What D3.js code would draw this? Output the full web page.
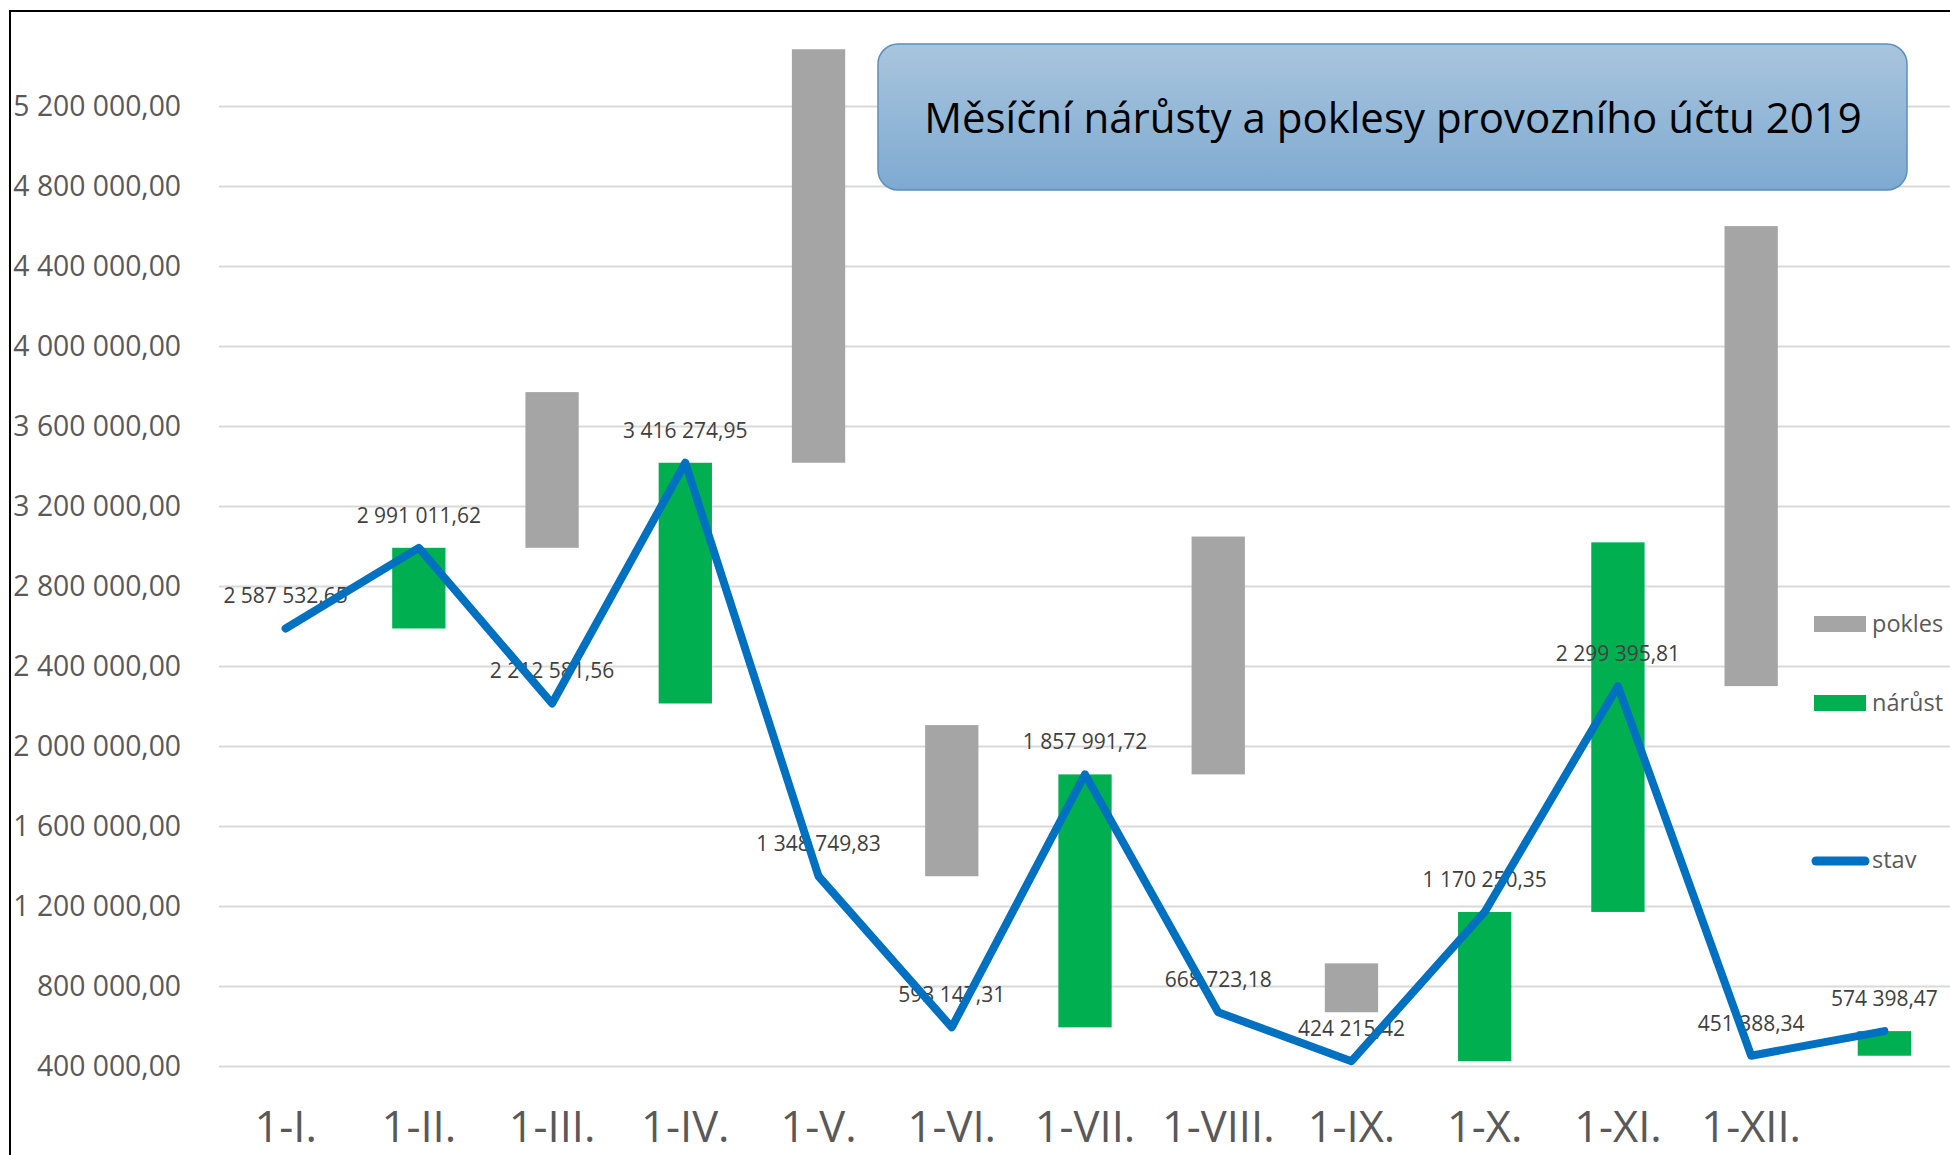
<!DOCTYPE html>
<html>
<head>
<meta charset="utf-8">
<script src="https://cdn.jsdelivr.net/npm/d3@7"></script>
<style>
  html, body { margin: 0; padding: 0; background: #fff; overflow: hidden; }
  svg { display: block; font-family: "Open Sans", sans-serif; }
</style>
</head>
<body>
<svg id="drawing_region"></svg>
<script>
// months (the last slot has no label, only the December closing balance)
const categories = ['1-I.', '1-II.', '1-III.', '1-IV.', '1-V.', '1-VI.', '1-VII.',
    '1-VIII.', '1-IX.', '1-X.', '1-XI.', '1-XII.', ''];
// balance of the account
const stav = [2587532.65, 2991011.62, 2212581.56, 3416274.95, 1348749.83, 593147.31,
    1857991.72, 668723.18, 424215.42, 1170250.35, 2299395.81, 451388.34, 574398.47];
// monthly increase / decrease, stacked on top of the previous balance (as drawn)
const narust = [0, 403478.97, 0, 1203693.39, 0, 0, 1264844.41, 0, 0, 746034.93, 1848007.47, 0, 123010.13];
const pokles = [0, 0, 778430.06, 0, 2067525.12, 755602.52, 0, 1189268.54, 244507.76, 0, 0, 2300000, 0];
const yTicks = [400000, 800000, 1200000, 1600000, 2000000, 2400000, 2800000,
    3200000, 3600000, 4000000, 4400000, 4800000, 5200000];
const title = 'Měsíční nárůsty a poklesy provozního účtu 2019';

const W = 1950, H = 1155;
const cz = d3.formatLocale({ decimal: ',', thousands: ' ', grouping: [3], currency: ['', ''] });
const fmt = cz.format(',.2f');

const svg = d3.select('#drawing_region').attr('width', W).attr('height', H);

const x = d3.scaleBand().domain(categories).range([219, 1951]);
const y = d3.scaleLinear().domain([400000, 5600000]).range([1066, 26]);
const bw = x.bandwidth() * 0.4;
const cx = i => x(categories[i]) + x.bandwidth() / 2;

// chart frame
svg.append('rect')
    .attr('x', 10).attr('y', 11).attr('width', W).attr('height', H)
    .attr('fill', '#fff').attr('stroke', '#000').attr('stroke-width', 2);

// y axis + gridlines
const yaxis = d3.axisLeft(y).tickValues(yTicks).tickFormat(fmt)
    .tickSize(-(1951 - 219)).tickPadding(38);
const yg = svg.append('g').attr('transform', 'translate(219,0)').call(yaxis);
yg.select('.domain').remove();
yg.selectAll('line').attr('stroke', '#d9d9d9').attr('stroke-width', 2);
yg.selectAll('text').attr('fill', '#595959').style('font-size', '28.3px')
    .style('font-family', '"Open Sans", sans-serif');

// x axis
const xaxis = d3.axisBottom(x).tickSize(0).tickPadding(45);
const xg = svg.append('g').attr('transform', 'translate(0,1066)').call(xaxis);
xg.select('.domain').remove();
xg.selectAll('text').attr('fill', '#595959').style('font-size', '43.5px')
    .style('font-family', '"Open Sans", sans-serif');

// bars
const bars = stav.map((d, i) => ({
    i: i,
    base: i > 0 ? stav[i - 1] : 0,
    narust: narust[i],
    pokles: pokles[i]
})).filter(d => d.i > 0);

svg.append('g').selectAll('rect.pokles')
    .data(bars.filter(d => d.pokles > 0))
    .join('rect')
    .attr('class', 'pokles')
    .attr('x', d => cx(d.i) - bw / 2)
    .attr('width', bw)
    .attr('y', d => y(d.base + d.pokles))
    .attr('height', d => y(d.base) - y(d.base + d.pokles))
    .attr('fill', '#a5a5a5');

svg.append('g').selectAll('rect.narust')
    .data(bars.filter(d => d.narust > 0))
    .join('rect')
    .attr('class', 'narust')
    .attr('x', d => cx(d.i) - bw / 2)
    .attr('width', bw)
    .attr('y', d => y(d.base + d.narust))
    .attr('height', d => y(d.base) - y(d.base + d.narust))
    .attr('fill', '#00b050');

// data labels
svg.append('g').selectAll('text')
    .data(stav)
    .join('text')
    .attr('x', (d, i) => cx(i))
    .attr('y', d => y(d) - 25)
    .attr('text-anchor', 'middle')
    .attr('fill', '#404040')
    .style('font-size', '21px')
    .text(d => fmt(d));

// balance line
const line = d3.line().x((d, i) => cx(i)).y(d => y(d));
svg.append('path')
    .datum(stav)
    .attr('d', line)
    .attr('fill', 'none')
    .attr('stroke', '#0070c0')
    .attr('stroke-width', 8)
    .attr('stroke-linejoin', 'round')
    .attr('stroke-linecap', 'round');

// title box
const defs = svg.append('defs');
const grad = defs.append('linearGradient').attr('id', 'tgrad')
    .attr('x1', 0).attr('y1', 0).attr('x2', 0).attr('y2', 1);
grad.append('stop').attr('offset', '0%').attr('stop-color', '#a9c5de');
grad.append('stop').attr('offset', '100%').attr('stop-color', '#7eaad0');

svg.append('rect')
    .attr('x', 878).attr('y', 44).attr('width', 1029).attr('height', 146)
    .attr('rx', 20).attr('ry', 20)
    .attr('fill', 'url(#tgrad)')
    .attr('stroke', '#5b8fbf').attr('stroke-width', 1.5);
svg.append('text')
    .attr('x', 1393).attr('y', 133)
    .attr('text-anchor', 'middle')
    .attr('fill', '#000')
    .style('font-size', '42px')
    .text(title);

// legend
const legend = svg.append('g');
legend.append('rect').attr('x', 1814).attr('y', 616).attr('width', 52).attr('height', 16).attr('fill', '#a5a5a5');
legend.append('text').attr('x', 1872).attr('y', 632).text('pokles');
legend.append('rect').attr('x', 1814).attr('y', 695).attr('width', 52).attr('height', 16).attr('fill', '#00b050');
legend.append('text').attr('x', 1872).attr('y', 711).text('nárůst');
legend.append('line').attr('x1', 1816).attr('x2', 1865).attr('y1', 861).attr('y2', 861)
    .attr('stroke', '#0070c0').attr('stroke-width', 9).attr('stroke-linecap', 'round');
legend.append('text').attr('x', 1872).attr('y', 868).text('stav');
legend.selectAll('text').attr('fill', '#595959').style('font-size', '23.5px');
</script>
</body>
</html>
